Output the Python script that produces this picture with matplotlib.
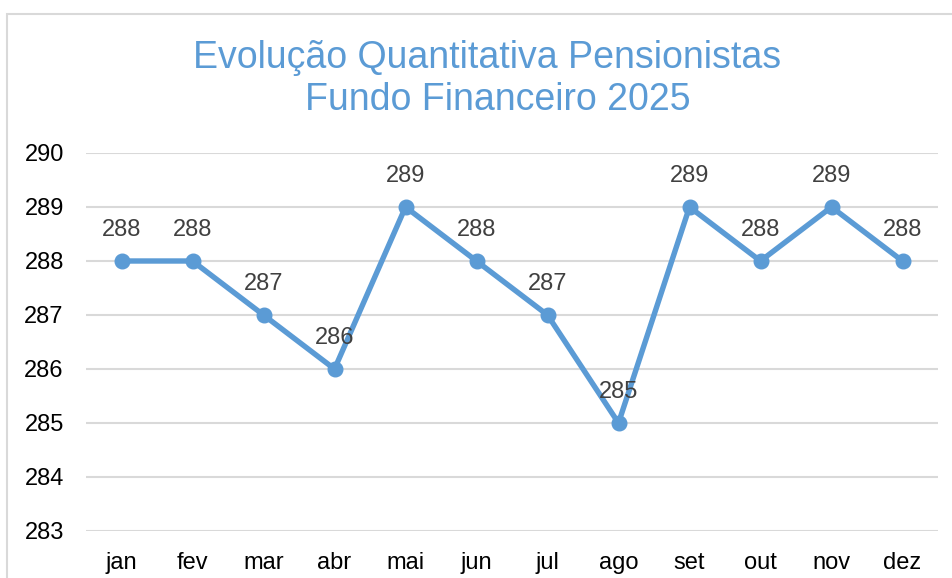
import matplotlib.pyplot as plt
from matplotlib.patches import Rectangle

meses = ['jan', 'fev', 'mar', 'abr', 'mai', 'jun', 'jul', 'ago', 'set', 'out', 'nov', 'dez']
pensionistas = [288, 288, 287, 286, 289, 288, 287, 285, 289, 288, 289, 288]
y_ticks = [283, 284, 285, 286, 287, 288, 289, 290]

azul = '#5B9BD5'
plt.rcParams['font.family'] = ['Liberation Sans', 'DejaVu Sans']

fig = plt.figure(figsize=(9.52, 5.78), dpi=100)
fig.patches.append(Rectangle((7 / 952, -0.1), 1.2, 1 - 14 / 578 + 0.1,
                             transform=fig.transFigure, fill=False,
                             edgecolor='#D9D9D9', linewidth=1.5))

ax = fig.add_axes([86 / 952, 1 - 531 / 578, (938 - 86) / 952, (531 - 153) / 578])
x = list(range(len(meses)))
ax.plot(x, pensionistas, color=azul, linewidth=3.9, marker='o', markersize=10.5,
        solid_capstyle='round', zorder=3)

for xi, v in zip(x, pensionistas):
    ax.annotate(str(v), (xi, v), xytext=(0, 22.5), textcoords='offset points',
                ha='center', va='center', fontsize=17, color='#404040')

ax.set_xlim(-0.5, len(meses) - 0.5)
ax.set_ylim(283, 290)
ax.set_yticks(y_ticks)
ax.set_xticks(x)
ax.set_xticklabels(meses)
ax.tick_params(axis='both', length=0, labelsize=17, colors='black')
ax.tick_params(axis='x', pad=15)
ax.tick_params(axis='y', pad=16)
ax.grid(axis='y', color='#D9D9D9', linewidth=1.5)
ax.set_axisbelow(True)
for s in ax.spines.values():
    s.set_visible(False)

# titulo em duas linhas (a segunda fica um pouco deslocada no original)
fig.text(487.5 / 952, 1 - 58 / 578, 'Evolução Quantitativa Pensionistas',
         ha='center', va='center', fontsize=27, color=azul)
fig.text(498 / 952, 1 - 100 / 578, 'Fundo Financeiro 2025',
         ha='center', va='center', fontsize=27, color=azul)

fig.savefig('out.png', dpi=100)
